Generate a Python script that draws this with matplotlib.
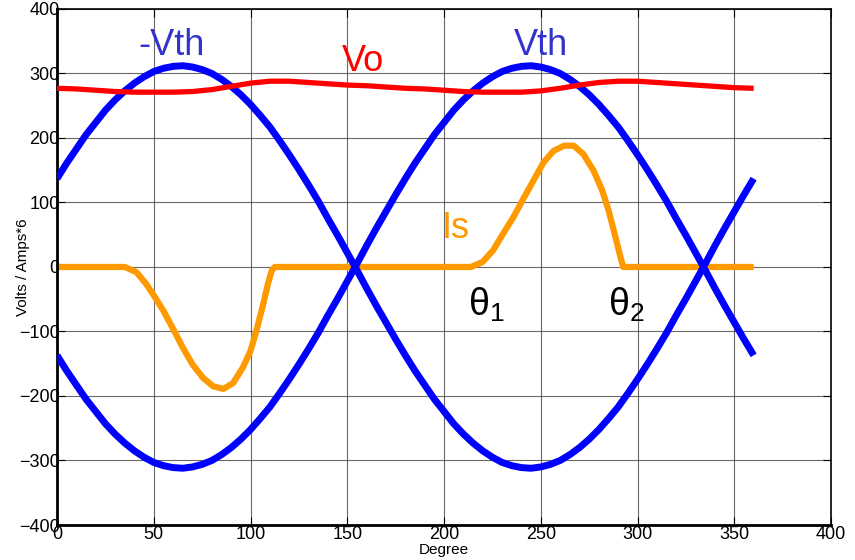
import matplotlib
matplotlib.use("Agg")
import matplotlib.pyplot as plt

plt.rcParams["font.family"] = ["Liberation Sans", "DejaVu Sans"]

# Blue sinusoid sampled every 5 degrees (Vth); -Vth is its mirror
deg = list(range(0, 361, 5))
vth = [-137, -161, -183, -205, -224, -243, -259, -273, -285, -295,
       -303, -308, -311, -312, -310, -306, -300, -291, -280, -267,
       -252, -235, -217, -196, -174, -151, -127, -102, -75, -49,
       -22, 5, 33, 60, 86, 112, 137, 161, 183, 205,
       224, 243, 259, 273, 285, 295, 303, 308, 311, 312,
       310, 306, 300, 291, 280, 267, 252, 235, 217, 196,
       174, 151, 127, 102, 75, 49, 22, -5, -33, -60,
       -86, -112, -137]
neg_vth = [-v for v in vth]

# Output voltage, every 10 degrees
vo_deg = list(range(0, 361, 10))
vo = [277, 276, 274, 272, 271, 271, 271, 272, 275, 280,
      285, 288, 288, 286, 284, 282, 281, 279, 277, 276,
      274, 272, 271, 271, 271, 273, 277, 282, 286, 288,
      288, 286, 284, 282, 280, 278, 277]

# Source current (scaled by 6)
is_deg = [0, 35, 41, 46, 50, 55, 60, 65, 70, 75.5, 80.7, 86, 91, 96,
          100, 103, 106.6, 109, 111, 112.6,
          214, 220, 225.4, 230.6, 235.8, 241, 246.2, 251.4, 256.6, 262,
          267, 272, 277.3, 281.7, 285, 288.6, 291.2, 292.6, 360]
is_val = [0, 0, -8, -26, -44, -68, -96, -125, -151, -172, -185, -189,
          -180, -156, -130, -99, -57, -26, -5, 0,
          0, 8, 26, 52, 77, 106, 134, 162, 180, 188,
          188, 175, 149, 119, 88, 46, 15, 0, 0]

fig = plt.figure(figsize=(8.55, 5.6), dpi=100)
ax = fig.add_axes([0.0667, 0.0625, 0.9053, 0.9215])

ax.plot(deg, vth, color="#0000ff", lw=5, solid_capstyle="butt", zorder=3)
ax.plot(deg, neg_vth, color="#0000ff", lw=5, solid_capstyle="butt", zorder=3)
ax.plot(vo_deg, vo, color="#ff0000", lw=3.8, solid_capstyle="butt", zorder=4)
ax.plot(is_deg, is_val, color="#ff9900", lw=4.5, solid_capstyle="butt",
        solid_joinstyle="round", zorder=2)

ax.set_xlim(0, 400)
ax.set_ylim(-400, 400)
ax.set_xticks(range(0, 401, 50))
ax.set_yticks(range(-400, 401, 100))
ax.grid(True, color="#444444", lw=0.8, alpha=0.8)
ax.set_axisbelow(True)
ax.tick_params(direction="in", length=6, top=True, right=True,
               labelsize=13, color="black")
ax.tick_params(axis="y", pad=-2)
ax.tick_params(axis="x", pad=1)
for side in ["left", "bottom"]:
    ax.spines[side].set_linewidth(2)
for side in ["top", "right"]:
    ax.spines[side].set_linewidth(1.2)

ax.set_xlabel("Degree", fontsize=11, labelpad=0)
ax.set_ylabel("Volts / Amps*6", fontsize=11, labelpad=-8)

ax.text(59, 344, "-Vth", color="#3333cc", fontsize=26, ha="center", va="center")
ax.text(250, 344, "Vth", color="#3333cc", fontsize=26, ha="center", va="center")
ax.text(158, 318, "Vo", color="#ff0000", fontsize=26, ha="center", va="center")
ax.text(206, 60, "Is", color="#ff9900", fontsize=26, ha="center", va="center")
ax.text(222, -58, r"$\mathregular{\theta_1}$", color="black", fontsize=27,
        ha="center", va="center")
ax.text(294, -58, r"$\mathregular{\theta_2}$", color="black", fontsize=27,
        ha="center", va="center")

fig.savefig("out.png", dpi=100)
